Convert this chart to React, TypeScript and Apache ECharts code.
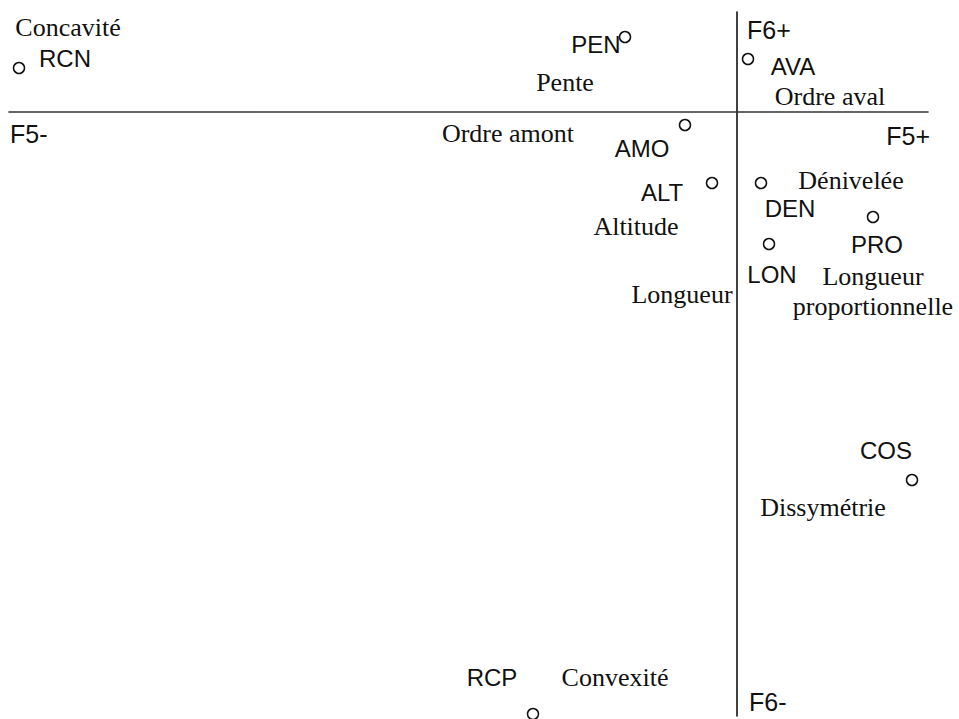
import React, { useEffect, useRef } from "react";
import * as echarts from "echarts";

// Variable codes, descriptive names, and coordinates on factors F5 (x) and F6 (y)
const codes = ["RCN", "PEN", "AVA", "AMO", "ALT", "DEN", "PRO", "LON", "COS", "RCP"];
const names = [
  "Concavité",
  "Pente",
  "Ordre aval",
  "Ordre amont",
  "Altitude",
  "Dénivelée",
  "Longueur\nproportionnelle",
  "Longueur",
  "Dissymétrie",
  "Convexité",
];
const f5 = [-7.18, -1.12, 0.11, -0.52, -0.25, 0.24, 1.36, 0.32, 1.75, -2.04];
const f6 = [0.44, 0.75, 0.53, -0.13, -0.71, -0.71, -1.05, -1.32, -3.68, -6.02];
const axisEnds = ["F5-", "F5+", "F6+", "F6-"];

// Layout only (label offsets in pixels)
const codeOffset: Record<string, number[]> = {
  RCN: [46, -10], PEN: [-29, 7], AVA: [45, 7], AMO: [-43, 23], ALT: [-50, 9],
  DEN: [29, 25], PRO: [4, 27], LON: [3, 30], COS: [-26, -30], RCP: [-41, -37],
};
const nameOffset: Record<string, number[]> = {
  RCN: [49, -41], PEN: [-60, 45], AVA: [82, 37], AMO: [-177, 8], ALT: [-76, 43],
  DEN: [90, -3], PRO: [0, 74], LON: [-87, 50], COS: [-89, 27], RCP: [82, -37],
};

const SANS = "'Liberation Sans', Arial, sans-serif";
const SERIF = "'Liberation Serif', 'Times New Roman', serif";

export default function App() {
  const ref = useRef<HTMLDivElement>(null);
  useEffect(() => {
    if (!ref.current) return;
    const chart = echarts.init(ref.current, undefined, { renderer: "svg" });
    const codeData = codes.map((c, i) => ({
      name: c,
      value: [f5[i], f6[i]],
      label: { offset: codeOffset[c] },
    }));
    const nameData = codes.map((c, i) => ({
      name: names[i],
      value: [f5[i], f6[i]],
      label: { offset: nameOffset[c] },
    }));
    chart.setOption({
      animation: false,
      backgroundColor: "#fff",
      grid: { left: 9, right: 31, top: 12, bottom: 3 },
      xAxis: {
        type: "value",
        min: -7.28,
        max: 1.91,
        axisLine: { show: true, onZero: true, lineStyle: { color: "#333", width: 1.6 } },
        axisTick: { show: false },
        axisLabel: { show: false },
        splitLine: { show: false },
      },
      yAxis: {
        type: "value",
        min: -6.04,
        max: 1.0,
        axisLine: { show: true, onZero: true, lineStyle: { color: "#111", width: 1.6 } },
        axisTick: { show: false },
        axisLabel: { show: false },
        splitLine: { show: false },
      },
      series: [
        {
          type: "scatter",
          clip: false,
          symbol: "circle",
          symbolSize: 11,
          itemStyle: { color: "#fff", borderColor: "#111", borderWidth: 1.5, opacity: 1 },
          label: {
            show: true,
            position: "inside",
            formatter: "{b}",
            fontFamily: SANS,
            fontSize: 24,
            color: "#111",
            textBorderWidth: 0,
            textBorderColor: "transparent",
            align: "center",
            verticalAlign: "middle",
          },
          data: codeData,
          z: 3,
        },
        {
          type: "scatter",
          clip: false,
          symbol: "circle",
          symbolSize: 1,
          itemStyle: { color: "rgba(0,0,0,0)", opacity: 1 },
          label: {
            show: true,
            position: "inside",
            formatter: "{b}",
            fontFamily: SERIF,
            fontSize: 26,
            lineHeight: 30,
            color: "#111",
            textBorderWidth: 0,
            textBorderColor: "transparent",
            align: "center",
            verticalAlign: "middle",
          },
          data: nameData,
          z: 2,
        },
      ],
      graphic: [
        { type: "text", left: 10, top: 121, style: { text: axisEnds[0], font: `25px ${SANS}`, fill: "#111" } },
        { type: "text", right: 29, top: 123, style: { text: axisEnds[1], font: `25px ${SANS}`, fill: "#111" } },
        { type: "text", left: 747, top: 17, style: { text: axisEnds[2], font: `25px ${SANS}`, fill: "#111" } },
        { type: "text", left: 749, top: 689, style: { text: axisEnds[3], font: `25px ${SANS}`, fill: "#111" } },
      ],
    });
    return () => chart.dispose();
  }, []);
  return (
    <div
      ref={ref}
      style={{ position: "absolute", left: 0, top: 0, width: 959, height: 719 }}
    />
  );
}
